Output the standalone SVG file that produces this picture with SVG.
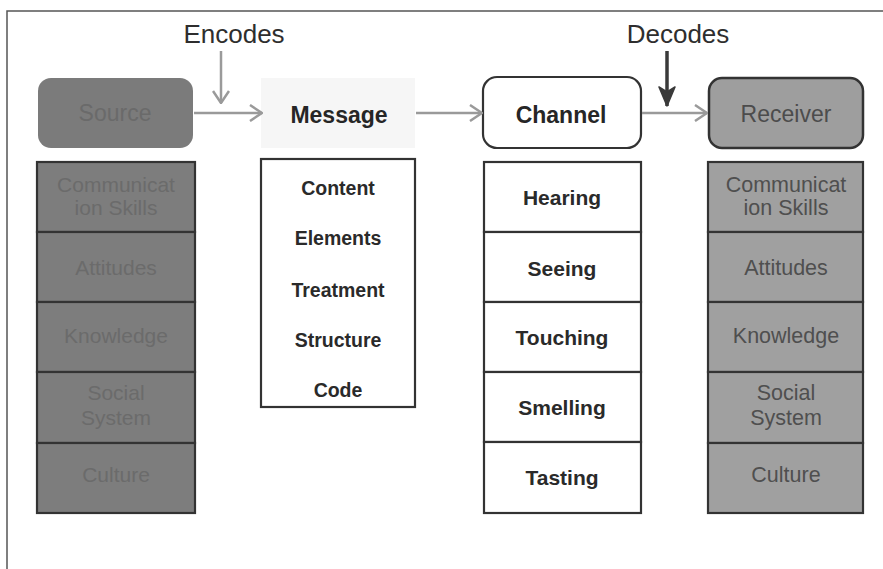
<svg xmlns="http://www.w3.org/2000/svg" width="883" height="569" viewBox="0 0 883 569">
  <defs>
    <style>
      text { font-family: "Liberation Sans", Arial, sans-serif; text-anchor: middle; }
      .frame { stroke: #555; stroke-width: 1.5; fill: none; }
      .head { font-size: 26px; fill: #2e2e2e; }
      .title { font-size: 23px; }
      .cell { stroke: #333; stroke-width: 2.2; }
      .src { fill: #7d7d7d; }
      .src-text { fill: #6b6b6b; font-size: 21px; }
      .rcv { fill: #a0a0a0; }
      .rcv-text { fill: #4f4f4f; font-size: 21.5px; }
      .white { fill: #ffffff; }
      .item { font-size: 21px; font-weight: bold; fill: #2a2a2a; }
      .msg-item { font-size: 19.5px; font-weight: bold; fill: #2a2a2a; }
      .conn { stroke: #9a9a9a; stroke-width: 2.5; fill: none; }
    </style>
    <marker id="chev" viewBox="0 0 14 18" refX="13" refY="9" markerWidth="14" markerHeight="18" markerUnits="userSpaceOnUse" orient="auto">
      <path d="M1,1 L13,9 L1,17" fill="none" stroke="#9a9a9a" stroke-width="2.5"/>
    </marker>
    <marker id="chev-solid" viewBox="0 0 22 18" refX="20" refY="9" markerWidth="22" markerHeight="20" markerUnits="userSpaceOnUse" orient="auto">
      <path d="M1,1 L20,9 L1,17 L6,9 Z" fill="#3a3a3a" stroke="#3a3a3a" stroke-width="1.5" stroke-linejoin="round"/>
    </marker>
  </defs>

  <rect width="883" height="569" fill="#ffffff"/>

  <!-- page frame -->
  <path class="frame" d="M7,569 L7,11 L883,11"/>

  <!-- headings -->
  <text class="head" x="234" y="43">Encodes</text>
  <text class="head" x="678" y="43">Decodes</text>

  <!-- source -->
  <g id="source">
    <rect x="38" y="78" width="155" height="70" rx="13" fill="#7b7b7b"/>
    <text class="title" x="115" y="121" fill="#6a6a6a">Source</text>
  </g>
  <g id="source-traits">
    <rect class="cell src" x="37" y="162" width="158" height="70"/>
    <rect class="cell src" x="37" y="232" width="158" height="70"/>
    <rect class="cell src" x="37" y="302" width="158" height="70"/>
    <rect class="cell src" x="37" y="372" width="158" height="71"/>
    <rect class="cell src" x="37" y="443" width="158" height="70"/>
    <text class="src-text" x="116" y="192">Communicat</text>
    <text class="src-text" x="116" y="215">ion Skills</text>
    <text class="src-text" x="116" y="275">Attitudes</text>
    <text class="src-text" x="116" y="343">Knowledge</text>
    <text class="src-text" x="116" y="400">Social</text>
    <text class="src-text" x="116" y="425">System</text>
    <text class="src-text" x="116" y="482">Culture</text>
  </g>

  <!-- message -->
  <g id="message">
    <rect x="261" y="78" width="154" height="70" fill="#f6f6f6"/>
    <text class="title" x="339" y="123" font-weight="bold" fill="#262626" font-size="22">Message</text>
  </g>
  <g id="message-parts">
    <rect class="cell white" x="261" y="159" width="154" height="248"/>
    <text class="msg-item" x="338" y="195">Content</text>
    <text class="msg-item" x="338" y="245">Elements</text>
    <text class="msg-item" x="338" y="297">Treatment</text>
    <text class="msg-item" x="338" y="347">Structure</text>
    <text class="msg-item" x="338" y="397">Code</text>
  </g>

  <!-- channel -->
  <g id="channel">
    <rect class="cell white" x="483" y="77" width="158" height="71" rx="14" stroke-width="2.5"/>
    <text class="title" x="561" y="123" font-weight="bold" fill="#262626">Channel</text>
  </g>
  <g id="channel-senses">
    <rect class="cell white" x="484" y="162" width="157" height="70"/>
    <rect class="cell white" x="484" y="232" width="157" height="70"/>
    <rect class="cell white" x="484" y="302" width="157" height="70"/>
    <rect class="cell white" x="484" y="372" width="157" height="70"/>
    <rect class="cell white" x="484" y="442" width="157" height="71"/>
    <text class="item" x="562" y="205">Hearing</text>
    <text class="item" x="562" y="276">Seeing</text>
    <text class="item" x="562" y="345">Touching</text>
    <text class="item" x="562" y="415">Smelling</text>
    <text class="item" x="562" y="485">Tasting</text>
  </g>

  <!-- receiver -->
  <g id="receiver">
    <rect x="709" y="78" width="154" height="70" rx="13" fill="#9e9e9e" stroke="#333" stroke-width="2.5"/>
    <text class="title" x="786" y="122" fill="#4c4c4c">Receiver</text>
  </g>
  <g id="receiver-traits">
    <rect class="cell rcv" x="708" y="162" width="155" height="70"/>
    <rect class="cell rcv" x="708" y="232" width="155" height="70"/>
    <rect class="cell rcv" x="708" y="302" width="155" height="70"/>
    <rect class="cell rcv" x="708" y="372" width="155" height="71"/>
    <rect class="cell rcv" x="708" y="443" width="155" height="70"/>
    <text class="rcv-text" x="786" y="192">Communicat</text>
    <text class="rcv-text" x="786" y="215">ion Skills</text>
    <text class="rcv-text" x="786" y="275">Attitudes</text>
    <text class="rcv-text" x="786" y="343">Knowledge</text>
    <text class="rcv-text" x="786" y="400">Social</text>
    <text class="rcv-text" x="786" y="425">System</text>
    <text class="rcv-text" x="786" y="482">Culture</text>
  </g>

  <!-- connectors -->
  <g id="connectors">
    <line class="conn" x1="194" y1="113" x2="262" y2="113" marker-end="url(#chev)"/>
    <line class="conn" x1="416" y1="113" x2="482" y2="113" marker-end="url(#chev)"/>
    <line class="conn" x1="642" y1="113" x2="707" y2="113" marker-end="url(#chev)"/>
    <line class="conn" x1="221" y1="51" x2="221" y2="103" stroke="#8a8a8a" marker-end="url(#chev)"/>
    <line x1="667" y1="51" x2="667" y2="106" stroke="#3a3a3a" stroke-width="3.5" marker-end="url(#chev-solid)"/>
  </g>
</svg>
